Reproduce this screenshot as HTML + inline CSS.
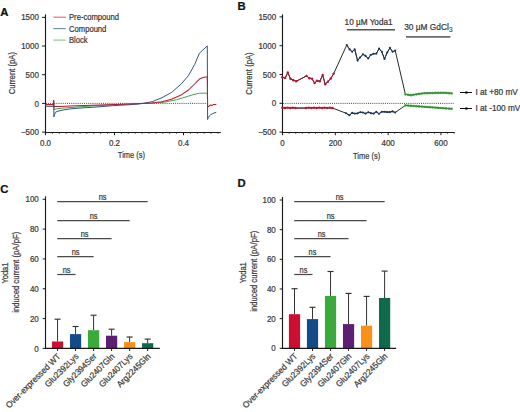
<!DOCTYPE html>
<html><head><meta charset="utf-8"><style>
html,body{margin:0;padding:0;background:#fff;width:520px;height:412px;overflow:hidden}
svg{display:block}
text{font-family:"Liberation Sans", sans-serif;stroke-width:0.22px}
</style></head><body>
<svg width="520" height="412" viewBox="0 0 520 412">
<rect width="520" height="412" fill="#fff"/>
<text x="0.30" y="15.90" font-size="11.3" text-anchor="start" fill="#111" stroke="#111" font-weight="bold" >A</text>
<text x="237.40" y="9.70" font-size="11.3" text-anchor="start" fill="#111" stroke="#111" font-weight="bold" >B</text>
<text x="0.30" y="193.40" font-size="11.3" text-anchor="start" fill="#111" stroke="#111" font-weight="bold" >C</text>
<text x="237.40" y="186.60" font-size="11.3" text-anchor="start" fill="#111" stroke="#111" font-weight="bold" >D</text>
<line x1="45.50" y1="14.40" x2="45.50" y2="135.20" stroke="#1a1a1a" stroke-width="1.15" />
<line x1="45.00" y1="132.50" x2="220.80" y2="132.50" stroke="#1a1a1a" stroke-width="1.15" />
<line x1="42.00" y1="17.38" x2="45.50" y2="17.38" stroke="#1a1a1a" stroke-width="1.0" />
<text x="0" y="0" transform="translate(38.90,20.48) scale(0.92,1)" font-size="8.7" text-anchor="end" fill="#383838" stroke="#383838" font-weight="normal" >1500</text>
<line x1="42.00" y1="46.05" x2="45.50" y2="46.05" stroke="#1a1a1a" stroke-width="1.0" />
<text x="0" y="0" transform="translate(38.90,49.15) scale(0.92,1)" font-size="8.7" text-anchor="end" fill="#383838" stroke="#383838" font-weight="normal" >1000</text>
<line x1="42.00" y1="74.73" x2="45.50" y2="74.73" stroke="#1a1a1a" stroke-width="1.0" />
<text x="0" y="0" transform="translate(38.90,77.83) scale(0.92,1)" font-size="8.7" text-anchor="end" fill="#383838" stroke="#383838" font-weight="normal" >500</text>
<line x1="42.00" y1="103.40" x2="45.50" y2="103.40" stroke="#1a1a1a" stroke-width="1.0" />
<text x="0" y="0" transform="translate(38.90,106.50) scale(0.92,1)" font-size="8.7" text-anchor="end" fill="#383838" stroke="#383838" font-weight="normal" >0</text>
<line x1="42.00" y1="132.08" x2="45.50" y2="132.08" stroke="#1a1a1a" stroke-width="1.0" />
<text x="0" y="0" transform="translate(38.90,135.18) scale(0.92,1)" font-size="8.7" text-anchor="end" fill="#383838" stroke="#383838" font-weight="normal" >&#8722;500</text>
<line x1="52.40" y1="132.50" x2="52.40" y2="133.60" stroke="#1a1a1a" stroke-width="1.0" />
<line x1="59.30" y1="132.50" x2="59.30" y2="133.60" stroke="#1a1a1a" stroke-width="1.0" />
<line x1="66.20" y1="132.50" x2="66.20" y2="133.60" stroke="#1a1a1a" stroke-width="1.0" />
<line x1="73.10" y1="132.50" x2="73.10" y2="133.60" stroke="#1a1a1a" stroke-width="1.0" />
<line x1="80.00" y1="132.50" x2="80.00" y2="133.60" stroke="#1a1a1a" stroke-width="1.0" />
<line x1="86.90" y1="132.50" x2="86.90" y2="133.60" stroke="#1a1a1a" stroke-width="1.0" />
<line x1="93.80" y1="132.50" x2="93.80" y2="133.60" stroke="#1a1a1a" stroke-width="1.0" />
<line x1="100.70" y1="132.50" x2="100.70" y2="133.60" stroke="#1a1a1a" stroke-width="1.0" />
<line x1="107.60" y1="132.50" x2="107.60" y2="133.60" stroke="#1a1a1a" stroke-width="1.0" />
<line x1="114.50" y1="132.50" x2="114.50" y2="135.20" stroke="#1a1a1a" stroke-width="1.0" />
<line x1="121.40" y1="132.50" x2="121.40" y2="133.60" stroke="#1a1a1a" stroke-width="1.0" />
<line x1="128.30" y1="132.50" x2="128.30" y2="133.60" stroke="#1a1a1a" stroke-width="1.0" />
<line x1="135.20" y1="132.50" x2="135.20" y2="133.60" stroke="#1a1a1a" stroke-width="1.0" />
<line x1="142.10" y1="132.50" x2="142.10" y2="133.60" stroke="#1a1a1a" stroke-width="1.0" />
<line x1="149.00" y1="132.50" x2="149.00" y2="133.60" stroke="#1a1a1a" stroke-width="1.0" />
<line x1="155.90" y1="132.50" x2="155.90" y2="133.60" stroke="#1a1a1a" stroke-width="1.0" />
<line x1="162.80" y1="132.50" x2="162.80" y2="133.60" stroke="#1a1a1a" stroke-width="1.0" />
<line x1="169.70" y1="132.50" x2="169.70" y2="133.60" stroke="#1a1a1a" stroke-width="1.0" />
<line x1="176.60" y1="132.50" x2="176.60" y2="133.60" stroke="#1a1a1a" stroke-width="1.0" />
<line x1="183.50" y1="132.50" x2="183.50" y2="135.20" stroke="#1a1a1a" stroke-width="1.0" />
<line x1="190.40" y1="132.50" x2="190.40" y2="133.60" stroke="#1a1a1a" stroke-width="1.0" />
<line x1="197.30" y1="132.50" x2="197.30" y2="133.60" stroke="#1a1a1a" stroke-width="1.0" />
<line x1="204.20" y1="132.50" x2="204.20" y2="133.60" stroke="#1a1a1a" stroke-width="1.0" />
<line x1="211.10" y1="132.50" x2="211.10" y2="133.60" stroke="#1a1a1a" stroke-width="1.0" />
<line x1="218.00" y1="132.50" x2="218.00" y2="133.60" stroke="#1a1a1a" stroke-width="1.0" />
<text x="0" y="0" transform="translate(45.50,146.30) scale(0.92,1)" font-size="8.7" text-anchor="middle" fill="#383838" stroke="#383838" font-weight="normal" >0.0</text>
<text x="0" y="0" transform="translate(114.50,146.30) scale(0.92,1)" font-size="8.7" text-anchor="middle" fill="#383838" stroke="#383838" font-weight="normal" >0.2</text>
<text x="0" y="0" transform="translate(183.50,146.30) scale(0.92,1)" font-size="8.7" text-anchor="middle" fill="#383838" stroke="#383838" font-weight="normal" >0.4</text>
<text x="0" y="0" transform="translate(131.40,158.40) scale(0.78,1)" font-size="9.6" text-anchor="middle" fill="#383838" stroke="#383838" font-weight="normal" >Time (s)</text>
<text transform="translate(14.9,73.2) rotate(-90) scale(0.82,1)" font-size="9.4" text-anchor="middle" fill="#383838" stroke="#383838">Current (pA)</text>
<line x1="45.80" y1="103.40" x2="207.20" y2="103.40" stroke="#333" stroke-width="0.9" stroke-dasharray="1.0,1.12"/>
<line x1="53.30" y1="17.20" x2="65.80" y2="17.20" stroke="#cc0f2e" stroke-width="0.85" stroke-opacity="0.85"/>
<text x="0" y="0" transform="translate(69.00,20.20) scale(0.89,1)" font-size="8.6" text-anchor="start" fill="#383838" stroke="#383838" font-weight="normal" >Pre-compound</text>
<line x1="53.30" y1="28.65" x2="65.80" y2="28.65" stroke="#134a88" stroke-width="0.85" stroke-opacity="0.85"/>
<text x="0" y="0" transform="translate(69.00,31.65) scale(0.89,1)" font-size="8.6" text-anchor="start" fill="#383838" stroke="#383838" font-weight="normal" >Compound</text>
<line x1="53.30" y1="40.10" x2="65.80" y2="40.10" stroke="#3aaa3a" stroke-width="0.85" stroke-opacity="0.85"/>
<text x="0" y="0" transform="translate(69.00,43.10) scale(0.89,1)" font-size="8.6" text-anchor="start" fill="#383838" stroke="#383838" font-weight="normal" >Block</text>
<polyline points="53.80,104.00 54.20,109.50 57.00,108.80 62.70,108.10 72.00,107.40 81.70,106.60 95.00,105.80 110.00,105.00 125.00,104.20 140.00,103.60 152.00,103.20 164.30,102.20 176.40,99.80 188.50,96.10 194.00,94.40 199.40,93.20 207.30,93.20 207.60,104.50" fill="none" stroke="#45a845" stroke-width="1.0" stroke-linejoin="round" stroke-linecap="round" />
<polyline points="45.60,106.30 53.60,106.40 53.70,100.40 53.90,116.90 55.40,112.20 58.00,111.20 62.00,110.20 71.00,108.80 82.00,107.90 92.30,107.30 103.00,106.50 113.50,105.60 124.00,105.00 134.60,104.40 143.00,103.40 152.10,101.70 161.80,97.80 171.50,92.50 181.20,84.00 188.50,75.50 194.60,64.60 199.40,53.20 207.30,45.90 207.60,119.50 208.30,117.60 209.30,116.00 210.80,114.60 212.80,113.50 215.90,112.40" fill="none" stroke="#2d5689" stroke-width="1.0" stroke-linejoin="round" stroke-linecap="round" />
<polyline points="45.60,104.60 53.50,104.60 53.60,100.40 53.80,106.60 60.00,106.40 70.00,106.00 85.00,105.50 100.00,105.00 115.00,104.50 130.00,104.00 141.00,103.40 152.00,102.90 161.80,101.70 171.50,99.30 181.20,94.90 188.50,90.00 194.60,84.00 199.40,79.10 203.00,77.60 207.30,76.70 207.60,106.80 209.00,106.20 210.50,105.00 212.00,105.60 213.50,104.40 215.90,104.40" fill="none" stroke="#bc1a30" stroke-width="1.05" stroke-linejoin="round" stroke-linecap="round" />
<line x1="282.50" y1="14.40" x2="282.50" y2="135.20" stroke="#1a1a1a" stroke-width="1.15" />
<line x1="282.00" y1="132.50" x2="454.60" y2="132.50" stroke="#1a1a1a" stroke-width="1.15" />
<line x1="279.50" y1="16.90" x2="282.50" y2="16.90" stroke="#1a1a1a" stroke-width="1.0" />
<text x="0" y="0" transform="translate(276.20,20.00) scale(0.92,1)" font-size="8.7" text-anchor="end" fill="#383838" stroke="#383838" font-weight="normal" >1500</text>
<line x1="279.50" y1="45.70" x2="282.50" y2="45.70" stroke="#1a1a1a" stroke-width="1.0" />
<text x="0" y="0" transform="translate(276.20,48.80) scale(0.92,1)" font-size="8.7" text-anchor="end" fill="#383838" stroke="#383838" font-weight="normal" >1000</text>
<line x1="279.50" y1="74.50" x2="282.50" y2="74.50" stroke="#1a1a1a" stroke-width="1.0" />
<text x="0" y="0" transform="translate(276.20,77.60) scale(0.92,1)" font-size="8.7" text-anchor="end" fill="#383838" stroke="#383838" font-weight="normal" >500</text>
<line x1="279.50" y1="103.30" x2="282.50" y2="103.30" stroke="#1a1a1a" stroke-width="1.0" />
<text x="0" y="0" transform="translate(276.20,106.40) scale(0.92,1)" font-size="8.7" text-anchor="end" fill="#383838" stroke="#383838" font-weight="normal" >0</text>
<line x1="279.50" y1="132.10" x2="282.50" y2="132.10" stroke="#1a1a1a" stroke-width="1.0" />
<text x="0" y="0" transform="translate(276.20,135.20) scale(0.92,1)" font-size="8.7" text-anchor="end" fill="#383838" stroke="#383838" font-weight="normal" >&#8722;500</text>
<line x1="289.10" y1="132.50" x2="289.10" y2="133.60" stroke="#1a1a1a" stroke-width="1.0" />
<line x1="295.70" y1="132.50" x2="295.70" y2="133.60" stroke="#1a1a1a" stroke-width="1.0" />
<line x1="302.31" y1="132.50" x2="302.31" y2="133.60" stroke="#1a1a1a" stroke-width="1.0" />
<line x1="308.91" y1="132.50" x2="308.91" y2="133.60" stroke="#1a1a1a" stroke-width="1.0" />
<line x1="315.51" y1="132.50" x2="315.51" y2="133.60" stroke="#1a1a1a" stroke-width="1.0" />
<line x1="322.12" y1="132.50" x2="322.12" y2="133.60" stroke="#1a1a1a" stroke-width="1.0" />
<line x1="328.72" y1="132.50" x2="328.72" y2="133.60" stroke="#1a1a1a" stroke-width="1.0" />
<line x1="335.32" y1="132.50" x2="335.32" y2="135.20" stroke="#1a1a1a" stroke-width="1.0" />
<line x1="341.92" y1="132.50" x2="341.92" y2="133.60" stroke="#1a1a1a" stroke-width="1.0" />
<line x1="348.52" y1="132.50" x2="348.52" y2="133.60" stroke="#1a1a1a" stroke-width="1.0" />
<line x1="355.13" y1="132.50" x2="355.13" y2="133.60" stroke="#1a1a1a" stroke-width="1.0" />
<line x1="361.73" y1="132.50" x2="361.73" y2="133.60" stroke="#1a1a1a" stroke-width="1.0" />
<line x1="368.33" y1="132.50" x2="368.33" y2="133.60" stroke="#1a1a1a" stroke-width="1.0" />
<line x1="374.94" y1="132.50" x2="374.94" y2="133.60" stroke="#1a1a1a" stroke-width="1.0" />
<line x1="381.54" y1="132.50" x2="381.54" y2="133.60" stroke="#1a1a1a" stroke-width="1.0" />
<line x1="388.14" y1="132.50" x2="388.14" y2="135.20" stroke="#1a1a1a" stroke-width="1.0" />
<line x1="394.74" y1="132.50" x2="394.74" y2="133.60" stroke="#1a1a1a" stroke-width="1.0" />
<line x1="401.35" y1="132.50" x2="401.35" y2="133.60" stroke="#1a1a1a" stroke-width="1.0" />
<line x1="407.95" y1="132.50" x2="407.95" y2="133.60" stroke="#1a1a1a" stroke-width="1.0" />
<line x1="414.55" y1="132.50" x2="414.55" y2="133.60" stroke="#1a1a1a" stroke-width="1.0" />
<line x1="421.15" y1="132.50" x2="421.15" y2="133.60" stroke="#1a1a1a" stroke-width="1.0" />
<line x1="427.75" y1="132.50" x2="427.75" y2="133.60" stroke="#1a1a1a" stroke-width="1.0" />
<line x1="434.36" y1="132.50" x2="434.36" y2="133.60" stroke="#1a1a1a" stroke-width="1.0" />
<line x1="440.96" y1="132.50" x2="440.96" y2="135.20" stroke="#1a1a1a" stroke-width="1.0" />
<line x1="447.56" y1="132.50" x2="447.56" y2="133.60" stroke="#1a1a1a" stroke-width="1.0" />
<line x1="454.16" y1="132.50" x2="454.16" y2="133.60" stroke="#1a1a1a" stroke-width="1.0" />
<text x="0" y="0" transform="translate(282.50,146.00) scale(0.92,1)" font-size="8.7" text-anchor="middle" fill="#383838" stroke="#383838" font-weight="normal" >0</text>
<text x="0" y="0" transform="translate(335.32,146.00) scale(0.92,1)" font-size="8.7" text-anchor="middle" fill="#383838" stroke="#383838" font-weight="normal" >200</text>
<text x="0" y="0" transform="translate(388.14,146.00) scale(0.92,1)" font-size="8.7" text-anchor="middle" fill="#383838" stroke="#383838" font-weight="normal" >400</text>
<text x="0" y="0" transform="translate(440.96,146.00) scale(0.92,1)" font-size="8.7" text-anchor="middle" fill="#383838" stroke="#383838" font-weight="normal" >600</text>
<text x="0" y="0" transform="translate(366.60,158.80) scale(0.78,1)" font-size="9.6" text-anchor="middle" fill="#383838" stroke="#383838" font-weight="normal" >Time (s)</text>
<text transform="translate(251.9,73.5) rotate(-90) scale(0.82,1)" font-size="9.4" text-anchor="middle" fill="#383838" stroke="#383838">Current (pA)</text>
<line x1="283.20" y1="103.40" x2="453.70" y2="103.40" stroke="#333" stroke-width="0.9" stroke-dasharray="1.0,1.12"/>
<text x="344.60" y="24.60" font-size="8.2" text-anchor="start" fill="#383838" stroke="#383838" font-weight="normal" >10 &#181;M Yoda1</text>
<line x1="346.90" y1="29.80" x2="395.00" y2="29.80" stroke="#555" stroke-width="1.6" />
<text x="404.2" y="29.9" font-size="8.35" fill="#383838" stroke="#383838">30 &#181;M GdCl<tspan font-size="6.5" dy="1.8" style="stroke-width:0.1px">3</tspan></text>
<line x1="406.00" y1="36.90" x2="450.40" y2="36.90" stroke="#6a6a6a" stroke-width="1.8" />
<line x1="460.00" y1="92.50" x2="471.90" y2="92.50" stroke="#111" stroke-width="1.0" />
<circle cx="466.3" cy="92.5" r="1.35" fill="#111"/>
<text x="475.40" y="95.20" font-size="8.25" text-anchor="start" fill="#383838" stroke="#383838" font-weight="normal" >I at +80 mV</text>
<line x1="460.00" y1="108.50" x2="471.90" y2="108.50" stroke="#111" stroke-width="1.0" />
<circle cx="466.3" cy="108.5" r="1.35" fill="#111"/>
<text x="475.40" y="111.20" font-size="8.25" text-anchor="start" fill="#383838" stroke="#383838" font-weight="normal" >I at -100 mV</text>
<polyline points="282.30,77.30 285.20,77.90 287.80,72.50 290.40,78.70 293.30,80.20 296.20,81.30 306.50,75.90 309.40,78.20 312.10,78.70 314.60,83.10 316.90,80.80 319.80,81.30 322.70,75.00 325.20,84.20 327.90,81.70 330.80,78.50 333.70,73.60 346.80,45.00 349.60,49.40 352.20,51.80 354.70,49.20 357.60,60.60 360.00,57.60 362.90,54.30 365.60,55.90 368.20,58.50 370.70,55.00 373.50,53.80 376.40,53.60 379.10,48.50 381.80,51.80 384.50,59.00 387.20,52.50 389.90,47.80 392.60,51.80 395.20,50.50 405.40,94.30 408.12,94.79 410.84,95.14 413.56,94.74 416.28,94.34 419.00,93.94 421.72,93.54 424.44,93.19 427.16,93.14 429.88,93.08 432.60,93.03 435.32,92.97 438.04,92.92 440.76,92.86 443.48,92.81 446.20,92.97 448.92,93.17 451.64,93.37" fill="none" stroke="#1c1c1c" stroke-width="0.95" stroke-linejoin="round" stroke-linecap="round" />
<polyline points="282.30,107.65 284.94,108.05 287.58,107.65 290.22,108.05 292.86,107.65 295.50,108.05 306.07,108.05 308.71,107.65 311.35,108.05 313.99,107.65 316.63,108.05 319.27,107.65 321.92,108.05 324.56,107.65 327.20,108.05 329.84,107.65 332.48,108.05 346.00,113.20 349.40,115.20 352.10,112.90 354.80,113.60 357.50,113.40 360.20,112.20 362.90,112.50 365.60,113.60 368.30,112.20 371.00,113.20 373.60,113.60 376.30,111.80 379.00,113.80 381.70,111.80 384.40,111.80 387.10,112.10 389.80,112.10 392.50,111.40 395.20,112.50 405.40,105.40 408.12,105.60 410.84,105.80 413.56,106.00 416.28,106.20 419.00,106.41 421.72,106.61 424.44,106.81 427.16,107.01 429.88,107.21 432.60,107.41 435.32,107.61 438.04,107.81 440.76,108.01 443.48,108.21 446.20,108.42 448.92,108.62 451.64,108.82" fill="none" stroke="#1c1c1c" stroke-width="0.95" stroke-linejoin="round" stroke-linecap="round" />
<polyline points="282.30,77.30 285.20,77.90 287.80,72.50 290.40,78.70 293.30,80.20 296.20,81.30 306.50,75.90 309.40,78.20 312.10,78.70 314.60,83.10 316.90,80.80 319.80,81.30 322.70,75.00 325.20,84.20 327.90,81.70 330.80,78.50 333.70,73.60" fill="none" stroke="#8a1828" stroke-width="0.95" stroke-linejoin="round" stroke-linecap="round" />
<polyline points="282.30,107.65 284.94,108.05 287.58,107.65 290.22,108.05 292.86,107.65 295.50,108.05 306.07,108.05 308.71,107.65 311.35,108.05 313.99,107.65 316.63,108.05 319.27,107.65 321.92,108.05 324.56,107.65 327.20,108.05 329.84,107.65 332.48,108.05" fill="none" stroke="#8a1828" stroke-width="0.95" stroke-linejoin="round" stroke-linecap="round" />
<polyline points="346.80,45.00 349.60,49.40 352.20,51.80 354.70,49.20 357.60,60.60 360.00,57.60 362.90,54.30 365.60,55.90 368.20,58.50 370.70,55.00 373.50,53.80 376.40,53.60 379.10,48.50 381.80,51.80 384.50,59.00 387.20,52.50 389.90,47.80 392.60,51.80 395.20,50.50" fill="none" stroke="#1b3358" stroke-width="0.9" stroke-linejoin="round" stroke-linecap="round" />
<polyline points="346.00,113.20 349.40,115.20 352.10,112.90 354.80,113.60 357.50,113.40 360.20,112.20 362.90,112.50 365.60,113.60 368.30,112.20 371.00,113.20 373.60,113.60 376.30,111.80 379.00,113.80 381.70,111.80 384.40,111.80 387.10,112.10 389.80,112.10 392.50,111.40 395.20,112.50" fill="none" stroke="#1b3358" stroke-width="0.9" stroke-linejoin="round" stroke-linecap="round" />
<circle cx="282.30" cy="77.30" r="1.2" fill="#c0122e"/>
<circle cx="285.20" cy="77.90" r="1.2" fill="#c0122e"/>
<circle cx="287.80" cy="72.50" r="1.2" fill="#c0122e"/>
<circle cx="290.40" cy="78.70" r="1.2" fill="#c0122e"/>
<circle cx="293.30" cy="80.20" r="1.2" fill="#c0122e"/>
<circle cx="296.20" cy="81.30" r="1.2" fill="#c0122e"/>
<circle cx="306.50" cy="75.90" r="1.2" fill="#c0122e"/>
<circle cx="309.40" cy="78.20" r="1.2" fill="#c0122e"/>
<circle cx="312.10" cy="78.70" r="1.2" fill="#c0122e"/>
<circle cx="314.60" cy="83.10" r="1.2" fill="#c0122e"/>
<circle cx="316.90" cy="80.80" r="1.2" fill="#c0122e"/>
<circle cx="319.80" cy="81.30" r="1.2" fill="#c0122e"/>
<circle cx="322.70" cy="75.00" r="1.2" fill="#c0122e"/>
<circle cx="325.20" cy="84.20" r="1.2" fill="#c0122e"/>
<circle cx="327.90" cy="81.70" r="1.2" fill="#c0122e"/>
<circle cx="330.80" cy="78.50" r="1.2" fill="#c0122e"/>
<circle cx="333.70" cy="73.60" r="1.2" fill="#c0122e"/>
<circle cx="282.30" cy="107.65" r="1.2" fill="#c0122e"/>
<circle cx="284.94" cy="108.05" r="1.2" fill="#c0122e"/>
<circle cx="287.58" cy="107.65" r="1.2" fill="#c0122e"/>
<circle cx="290.22" cy="108.05" r="1.2" fill="#c0122e"/>
<circle cx="292.86" cy="107.65" r="1.2" fill="#c0122e"/>
<circle cx="295.50" cy="108.05" r="1.2" fill="#c0122e"/>
<circle cx="306.07" cy="108.05" r="1.2" fill="#c0122e"/>
<circle cx="308.71" cy="107.65" r="1.2" fill="#c0122e"/>
<circle cx="311.35" cy="108.05" r="1.2" fill="#c0122e"/>
<circle cx="313.99" cy="107.65" r="1.2" fill="#c0122e"/>
<circle cx="316.63" cy="108.05" r="1.2" fill="#c0122e"/>
<circle cx="319.27" cy="107.65" r="1.2" fill="#c0122e"/>
<circle cx="321.92" cy="108.05" r="1.2" fill="#c0122e"/>
<circle cx="324.56" cy="107.65" r="1.2" fill="#c0122e"/>
<circle cx="327.20" cy="108.05" r="1.2" fill="#c0122e"/>
<circle cx="329.84" cy="107.65" r="1.2" fill="#c0122e"/>
<circle cx="332.48" cy="108.05" r="1.2" fill="#c0122e"/>
<circle cx="346.80" cy="45.00" r="1.05" fill="#1b3358"/>
<circle cx="349.60" cy="49.40" r="1.05" fill="#1b3358"/>
<circle cx="352.20" cy="51.80" r="1.05" fill="#1b3358"/>
<circle cx="354.70" cy="49.20" r="1.05" fill="#1b3358"/>
<circle cx="357.60" cy="60.60" r="1.05" fill="#1b3358"/>
<circle cx="360.00" cy="57.60" r="1.05" fill="#1b3358"/>
<circle cx="362.90" cy="54.30" r="1.05" fill="#1b3358"/>
<circle cx="365.60" cy="55.90" r="1.05" fill="#1b3358"/>
<circle cx="368.20" cy="58.50" r="1.05" fill="#1b3358"/>
<circle cx="370.70" cy="55.00" r="1.05" fill="#1b3358"/>
<circle cx="373.50" cy="53.80" r="1.05" fill="#1b3358"/>
<circle cx="376.40" cy="53.60" r="1.05" fill="#1b3358"/>
<circle cx="379.10" cy="48.50" r="1.05" fill="#1b3358"/>
<circle cx="381.80" cy="51.80" r="1.05" fill="#1b3358"/>
<circle cx="384.50" cy="59.00" r="1.05" fill="#1b3358"/>
<circle cx="387.20" cy="52.50" r="1.05" fill="#1b3358"/>
<circle cx="389.90" cy="47.80" r="1.05" fill="#1b3358"/>
<circle cx="392.60" cy="51.80" r="1.05" fill="#1b3358"/>
<circle cx="395.20" cy="50.50" r="1.05" fill="#1b3358"/>
<circle cx="346.00" cy="113.20" r="1.05" fill="#1b3358"/>
<circle cx="349.40" cy="115.20" r="1.05" fill="#1b3358"/>
<circle cx="352.10" cy="112.90" r="1.05" fill="#1b3358"/>
<circle cx="354.80" cy="113.60" r="1.05" fill="#1b3358"/>
<circle cx="357.50" cy="113.40" r="1.05" fill="#1b3358"/>
<circle cx="360.20" cy="112.20" r="1.05" fill="#1b3358"/>
<circle cx="362.90" cy="112.50" r="1.05" fill="#1b3358"/>
<circle cx="365.60" cy="113.60" r="1.05" fill="#1b3358"/>
<circle cx="368.30" cy="112.20" r="1.05" fill="#1b3358"/>
<circle cx="371.00" cy="113.20" r="1.05" fill="#1b3358"/>
<circle cx="373.60" cy="113.60" r="1.05" fill="#1b3358"/>
<circle cx="376.30" cy="111.80" r="1.05" fill="#1b3358"/>
<circle cx="379.00" cy="113.80" r="1.05" fill="#1b3358"/>
<circle cx="381.70" cy="111.80" r="1.05" fill="#1b3358"/>
<circle cx="384.40" cy="111.80" r="1.05" fill="#1b3358"/>
<circle cx="387.10" cy="112.10" r="1.05" fill="#1b3358"/>
<circle cx="389.80" cy="112.10" r="1.05" fill="#1b3358"/>
<circle cx="392.50" cy="111.40" r="1.05" fill="#1b3358"/>
<circle cx="395.20" cy="112.50" r="1.05" fill="#1b3358"/>
<circle cx="405.40" cy="94.30" r="1.35" fill="#50b450"/>
<circle cx="408.12" cy="94.79" r="1.35" fill="#50b450"/>
<circle cx="410.84" cy="95.14" r="1.35" fill="#50b450"/>
<circle cx="413.56" cy="94.74" r="1.35" fill="#50b450"/>
<circle cx="416.28" cy="94.34" r="1.35" fill="#50b450"/>
<circle cx="419.00" cy="93.94" r="1.35" fill="#50b450"/>
<circle cx="421.72" cy="93.54" r="1.35" fill="#50b450"/>
<circle cx="424.44" cy="93.19" r="1.35" fill="#50b450"/>
<circle cx="427.16" cy="93.14" r="1.35" fill="#50b450"/>
<circle cx="429.88" cy="93.08" r="1.35" fill="#50b450"/>
<circle cx="432.60" cy="93.03" r="1.35" fill="#50b450"/>
<circle cx="435.32" cy="92.97" r="1.35" fill="#50b450"/>
<circle cx="438.04" cy="92.92" r="1.35" fill="#50b450"/>
<circle cx="440.76" cy="92.86" r="1.35" fill="#50b450"/>
<circle cx="443.48" cy="92.81" r="1.35" fill="#50b450"/>
<circle cx="446.20" cy="92.97" r="1.35" fill="#50b450"/>
<circle cx="448.92" cy="93.17" r="1.35" fill="#50b450"/>
<circle cx="451.64" cy="93.37" r="1.35" fill="#50b450"/>
<circle cx="405.40" cy="105.40" r="1.35" fill="#50b450"/>
<circle cx="408.12" cy="105.60" r="1.35" fill="#50b450"/>
<circle cx="410.84" cy="105.80" r="1.35" fill="#50b450"/>
<circle cx="413.56" cy="106.00" r="1.35" fill="#50b450"/>
<circle cx="416.28" cy="106.20" r="1.35" fill="#50b450"/>
<circle cx="419.00" cy="106.41" r="1.35" fill="#50b450"/>
<circle cx="421.72" cy="106.61" r="1.35" fill="#50b450"/>
<circle cx="424.44" cy="106.81" r="1.35" fill="#50b450"/>
<circle cx="427.16" cy="107.01" r="1.35" fill="#50b450"/>
<circle cx="429.88" cy="107.21" r="1.35" fill="#50b450"/>
<circle cx="432.60" cy="107.41" r="1.35" fill="#50b450"/>
<circle cx="435.32" cy="107.61" r="1.35" fill="#50b450"/>
<circle cx="438.04" cy="107.81" r="1.35" fill="#50b450"/>
<circle cx="440.76" cy="108.01" r="1.35" fill="#50b450"/>
<circle cx="443.48" cy="108.21" r="1.35" fill="#50b450"/>
<circle cx="446.20" cy="108.42" r="1.35" fill="#50b450"/>
<circle cx="448.92" cy="108.62" r="1.35" fill="#50b450"/>
<circle cx="451.64" cy="108.82" r="1.35" fill="#50b450"/>
<polyline points="405.40,94.30 408.12,94.79 410.84,95.14 413.56,94.74 416.28,94.34 419.00,93.94 421.72,93.54 424.44,93.19 427.16,93.14 429.88,93.08 432.60,93.03 435.32,92.97 438.04,92.92 440.76,92.86 443.48,92.81 446.20,92.97 448.92,93.17 451.64,93.37" fill="none" stroke="#2f7a2f" stroke-width="0.9" stroke-linejoin="round" stroke-linecap="round" />
<polyline points="405.40,105.40 408.12,105.60 410.84,105.80 413.56,106.00 416.28,106.20 419.00,106.41 421.72,106.61 424.44,106.81 427.16,107.01 429.88,107.21 432.60,107.41 435.32,107.61 438.04,107.81 440.76,108.01 443.48,108.21 446.20,108.42 448.92,108.62 451.64,108.82" fill="none" stroke="#2f7a2f" stroke-width="0.9" stroke-linejoin="round" stroke-linecap="round" />
<line x1="45.50" y1="196.30" x2="45.50" y2="348.90" stroke="#1a1a1a" stroke-width="1.15" />
<line x1="42.70" y1="348.40" x2="45.50" y2="348.40" stroke="#1a1a1a" stroke-width="1.0" />
<text x="0" y="0" transform="translate(38.80,351.50) scale(0.92,1)" font-size="8.7" text-anchor="end" fill="#383838" stroke="#383838" font-weight="normal" >0</text>
<line x1="42.70" y1="318.58" x2="45.50" y2="318.58" stroke="#1a1a1a" stroke-width="1.0" />
<text x="0" y="0" transform="translate(38.80,321.68) scale(0.92,1)" font-size="8.7" text-anchor="end" fill="#383838" stroke="#383838" font-weight="normal" >20</text>
<line x1="42.70" y1="288.76" x2="45.50" y2="288.76" stroke="#1a1a1a" stroke-width="1.0" />
<text x="0" y="0" transform="translate(38.80,291.86) scale(0.92,1)" font-size="8.7" text-anchor="end" fill="#383838" stroke="#383838" font-weight="normal" >40</text>
<line x1="42.70" y1="258.94" x2="45.50" y2="258.94" stroke="#1a1a1a" stroke-width="1.0" />
<text x="0" y="0" transform="translate(38.80,262.04) scale(0.92,1)" font-size="8.7" text-anchor="end" fill="#383838" stroke="#383838" font-weight="normal" >60</text>
<line x1="42.70" y1="229.12" x2="45.50" y2="229.12" stroke="#1a1a1a" stroke-width="1.0" />
<text x="0" y="0" transform="translate(38.80,232.22) scale(0.92,1)" font-size="8.7" text-anchor="end" fill="#383838" stroke="#383838" font-weight="normal" >80</text>
<line x1="42.70" y1="199.30" x2="45.50" y2="199.30" stroke="#1a1a1a" stroke-width="1.0" />
<text x="0" y="0" transform="translate(38.80,202.40) scale(0.92,1)" font-size="8.7" text-anchor="end" fill="#383838" stroke="#383838" font-weight="normal" >100</text>
<line x1="57.55" y1="341.50" x2="57.55" y2="319.20" stroke="#333" stroke-width="1.0" />
<line x1="54.55" y1="319.20" x2="60.55" y2="319.20" stroke="#333" stroke-width="1.15" />
<rect x="51.95" y="341.50" width="11.2" height="6.90" fill="#cc0f2e"/>
<line x1="57.55" y1="348.40" x2="57.55" y2="351.00" stroke="#1a1a1a" stroke-width="1.0" />
<text transform="translate(61.05,356.90) rotate(-45) scale(0.95,1)" font-size="8.65" text-anchor="end" fill="#383838" stroke="#383838">Over-expressed WT</text>
<line x1="75.57" y1="334.10" x2="75.57" y2="326.50" stroke="#333" stroke-width="1.0" />
<line x1="72.57" y1="326.50" x2="78.57" y2="326.50" stroke="#333" stroke-width="1.15" />
<rect x="69.97" y="334.10" width="11.2" height="14.30" fill="#134a88"/>
<line x1="75.57" y1="348.40" x2="75.57" y2="351.00" stroke="#1a1a1a" stroke-width="1.0" />
<text transform="translate(79.07,356.90) rotate(-45) scale(0.95,1)" font-size="8.65" text-anchor="end" fill="#383838" stroke="#383838">Glu2392Lys</text>
<line x1="93.59" y1="330.20" x2="93.59" y2="315.20" stroke="#333" stroke-width="1.0" />
<line x1="90.59" y1="315.20" x2="96.59" y2="315.20" stroke="#333" stroke-width="1.15" />
<rect x="87.99" y="330.20" width="11.2" height="18.20" fill="#3aaa3a"/>
<line x1="93.59" y1="348.40" x2="93.59" y2="351.00" stroke="#1a1a1a" stroke-width="1.0" />
<text transform="translate(97.09,356.90) rotate(-45) scale(0.95,1)" font-size="8.65" text-anchor="end" fill="#383838" stroke="#383838">Gly2394Ser</text>
<line x1="111.61" y1="335.70" x2="111.61" y2="329.20" stroke="#333" stroke-width="1.0" />
<line x1="108.61" y1="329.20" x2="114.61" y2="329.20" stroke="#333" stroke-width="1.15" />
<rect x="106.01" y="335.70" width="11.2" height="12.70" fill="#5c1f72"/>
<line x1="111.61" y1="348.40" x2="111.61" y2="351.00" stroke="#1a1a1a" stroke-width="1.0" />
<text transform="translate(115.11,356.90) rotate(-45) scale(0.95,1)" font-size="8.65" text-anchor="end" fill="#383838" stroke="#383838">Glu2407Gln</text>
<line x1="129.63" y1="342.10" x2="129.63" y2="337.00" stroke="#333" stroke-width="1.0" />
<line x1="126.63" y1="337.00" x2="132.63" y2="337.00" stroke="#333" stroke-width="1.15" />
<rect x="124.03" y="342.10" width="11.2" height="6.30" fill="#f7911c"/>
<line x1="129.63" y1="348.40" x2="129.63" y2="351.00" stroke="#1a1a1a" stroke-width="1.0" />
<text transform="translate(133.13,356.90) rotate(-45) scale(0.95,1)" font-size="8.65" text-anchor="end" fill="#383838" stroke="#383838">Glu2407Lys</text>
<line x1="147.65" y1="343.20" x2="147.65" y2="339.10" stroke="#333" stroke-width="1.0" />
<line x1="144.65" y1="339.10" x2="150.65" y2="339.10" stroke="#333" stroke-width="1.15" />
<rect x="142.05" y="343.20" width="11.2" height="5.20" fill="#0f6a4d"/>
<line x1="147.65" y1="348.40" x2="147.65" y2="351.00" stroke="#1a1a1a" stroke-width="1.0" />
<text transform="translate(151.15,356.90) rotate(-45) scale(0.95,1)" font-size="8.65" text-anchor="end" fill="#383838" stroke="#383838">Arg2245Gln</text>
<line x1="45.00" y1="348.40" x2="159.80" y2="348.40" stroke="#1a1a1a" stroke-width="1.2" />
<line x1="57.25" y1="201.50" x2="147.65" y2="201.50" stroke="#4a4a4a" stroke-width="1.25" />
<text x="0" y="0" transform="translate(102.60,199.60) scale(0.86,1)" font-size="8.6" text-anchor="middle" fill="#383838" stroke="#383838" font-weight="normal" >ns</text>
<line x1="57.25" y1="220.50" x2="129.63" y2="220.50" stroke="#4a4a4a" stroke-width="1.25" />
<text x="0" y="0" transform="translate(93.59,218.60) scale(0.86,1)" font-size="8.6" text-anchor="middle" fill="#383838" stroke="#383838" font-weight="normal" >ns</text>
<line x1="57.25" y1="238.50" x2="111.61" y2="238.50" stroke="#4a4a4a" stroke-width="1.25" />
<text x="0" y="0" transform="translate(84.58,236.60) scale(0.86,1)" font-size="8.6" text-anchor="middle" fill="#383838" stroke="#383838" font-weight="normal" >ns</text>
<line x1="57.25" y1="256.50" x2="93.59" y2="256.50" stroke="#4a4a4a" stroke-width="1.25" />
<text x="0" y="0" transform="translate(75.57,254.60) scale(0.86,1)" font-size="8.6" text-anchor="middle" fill="#383838" stroke="#383838" font-weight="normal" >ns</text>
<line x1="57.25" y1="274.50" x2="75.57" y2="274.50" stroke="#4a4a4a" stroke-width="1.25" />
<text x="0" y="0" transform="translate(66.56,272.60) scale(0.86,1)" font-size="8.6" text-anchor="middle" fill="#383838" stroke="#383838" font-weight="normal" >ns</text>
<text transform="translate(8.30,273.10) rotate(-90)" font-size="8.8" text-anchor="middle" fill="#383838" stroke="#383838" textLength="21" lengthAdjust="spacingAndGlyphs">Yoda1</text>
<text transform="translate(18.60,272.30) rotate(-90)" font-size="8.4" text-anchor="middle" fill="#383838" stroke="#383838" textLength="81" lengthAdjust="spacingAndGlyphs">induced current (pA/pF)</text>
<line x1="282.50" y1="197.00" x2="282.50" y2="348.80" stroke="#1a1a1a" stroke-width="1.15" />
<line x1="279.70" y1="348.30" x2="282.50" y2="348.30" stroke="#1a1a1a" stroke-width="1.0" />
<text x="0" y="0" transform="translate(275.80,351.40) scale(0.92,1)" font-size="8.7" text-anchor="end" fill="#383838" stroke="#383838" font-weight="normal" >0</text>
<line x1="279.70" y1="318.64" x2="282.50" y2="318.64" stroke="#1a1a1a" stroke-width="1.0" />
<text x="0" y="0" transform="translate(275.80,321.74) scale(0.92,1)" font-size="8.7" text-anchor="end" fill="#383838" stroke="#383838" font-weight="normal" >20</text>
<line x1="279.70" y1="288.98" x2="282.50" y2="288.98" stroke="#1a1a1a" stroke-width="1.0" />
<text x="0" y="0" transform="translate(275.80,292.08) scale(0.92,1)" font-size="8.7" text-anchor="end" fill="#383838" stroke="#383838" font-weight="normal" >40</text>
<line x1="279.70" y1="259.32" x2="282.50" y2="259.32" stroke="#1a1a1a" stroke-width="1.0" />
<text x="0" y="0" transform="translate(275.80,262.42) scale(0.92,1)" font-size="8.7" text-anchor="end" fill="#383838" stroke="#383838" font-weight="normal" >60</text>
<line x1="279.70" y1="229.66" x2="282.50" y2="229.66" stroke="#1a1a1a" stroke-width="1.0" />
<text x="0" y="0" transform="translate(275.80,232.76) scale(0.92,1)" font-size="8.7" text-anchor="end" fill="#383838" stroke="#383838" font-weight="normal" >80</text>
<line x1="279.70" y1="200.00" x2="282.50" y2="200.00" stroke="#1a1a1a" stroke-width="1.0" />
<text x="0" y="0" transform="translate(275.80,203.10) scale(0.92,1)" font-size="8.7" text-anchor="end" fill="#383838" stroke="#383838" font-weight="normal" >100</text>
<line x1="294.50" y1="314.20" x2="294.50" y2="288.70" stroke="#333" stroke-width="1.0" />
<line x1="291.50" y1="288.70" x2="297.50" y2="288.70" stroke="#333" stroke-width="1.15" />
<rect x="288.90" y="314.20" width="11.2" height="34.10" fill="#cc0f2e"/>
<line x1="294.50" y1="348.30" x2="294.50" y2="350.90" stroke="#1a1a1a" stroke-width="1.0" />
<text transform="translate(298.00,356.80) rotate(-45) scale(0.95,1)" font-size="8.65" text-anchor="end" fill="#383838" stroke="#383838">Over-expressed WT</text>
<line x1="312.52" y1="319.10" x2="312.52" y2="307.30" stroke="#333" stroke-width="1.0" />
<line x1="309.52" y1="307.30" x2="315.52" y2="307.30" stroke="#333" stroke-width="1.15" />
<rect x="306.92" y="319.10" width="11.2" height="29.20" fill="#134a88"/>
<line x1="312.52" y1="348.30" x2="312.52" y2="350.90" stroke="#1a1a1a" stroke-width="1.0" />
<text transform="translate(316.02,356.80) rotate(-45) scale(0.95,1)" font-size="8.65" text-anchor="end" fill="#383838" stroke="#383838">Glu2392Lys</text>
<line x1="330.54" y1="295.90" x2="330.54" y2="271.50" stroke="#333" stroke-width="1.0" />
<line x1="327.54" y1="271.50" x2="333.54" y2="271.50" stroke="#333" stroke-width="1.15" />
<rect x="324.94" y="295.90" width="11.2" height="52.40" fill="#3aaa3a"/>
<line x1="330.54" y1="348.30" x2="330.54" y2="350.90" stroke="#1a1a1a" stroke-width="1.0" />
<text transform="translate(334.04,356.80) rotate(-45) scale(0.95,1)" font-size="8.65" text-anchor="end" fill="#383838" stroke="#383838">Gly2394Ser</text>
<line x1="348.56" y1="324.10" x2="348.56" y2="293.40" stroke="#333" stroke-width="1.0" />
<line x1="345.56" y1="293.40" x2="351.56" y2="293.40" stroke="#333" stroke-width="1.15" />
<rect x="342.96" y="324.10" width="11.2" height="24.20" fill="#5c1f72"/>
<line x1="348.56" y1="348.30" x2="348.56" y2="350.90" stroke="#1a1a1a" stroke-width="1.0" />
<text transform="translate(352.06,356.80) rotate(-45) scale(0.95,1)" font-size="8.65" text-anchor="end" fill="#383838" stroke="#383838">Glu2407Gln</text>
<line x1="366.58" y1="325.70" x2="366.58" y2="296.40" stroke="#333" stroke-width="1.0" />
<line x1="363.58" y1="296.40" x2="369.58" y2="296.40" stroke="#333" stroke-width="1.15" />
<rect x="360.98" y="325.70" width="11.2" height="22.60" fill="#f7911c"/>
<line x1="366.58" y1="348.30" x2="366.58" y2="350.90" stroke="#1a1a1a" stroke-width="1.0" />
<text transform="translate(370.08,356.80) rotate(-45) scale(0.95,1)" font-size="8.65" text-anchor="end" fill="#383838" stroke="#383838">Glu2407Lys</text>
<line x1="384.60" y1="298.00" x2="384.60" y2="271.10" stroke="#333" stroke-width="1.0" />
<line x1="381.60" y1="271.10" x2="387.60" y2="271.10" stroke="#333" stroke-width="1.15" />
<rect x="379.00" y="298.00" width="11.2" height="50.30" fill="#0f6a4d"/>
<line x1="384.60" y1="348.30" x2="384.60" y2="350.90" stroke="#1a1a1a" stroke-width="1.0" />
<text transform="translate(388.10,356.80) rotate(-45) scale(0.95,1)" font-size="8.65" text-anchor="end" fill="#383838" stroke="#383838">Arg2245Gln</text>
<line x1="282.00" y1="348.30" x2="396.10" y2="348.30" stroke="#1a1a1a" stroke-width="1.2" />
<line x1="294.20" y1="201.50" x2="384.60" y2="201.50" stroke="#4a4a4a" stroke-width="1.25" />
<text x="0" y="0" transform="translate(339.55,199.60) scale(0.86,1)" font-size="8.6" text-anchor="middle" fill="#383838" stroke="#383838" font-weight="normal" >ns</text>
<line x1="294.20" y1="220.50" x2="366.58" y2="220.50" stroke="#4a4a4a" stroke-width="1.25" />
<text x="0" y="0" transform="translate(330.54,218.60) scale(0.86,1)" font-size="8.6" text-anchor="middle" fill="#383838" stroke="#383838" font-weight="normal" >ns</text>
<line x1="294.20" y1="238.50" x2="348.56" y2="238.50" stroke="#4a4a4a" stroke-width="1.25" />
<text x="0" y="0" transform="translate(321.53,236.60) scale(0.86,1)" font-size="8.6" text-anchor="middle" fill="#383838" stroke="#383838" font-weight="normal" >ns</text>
<line x1="294.20" y1="256.50" x2="330.54" y2="256.50" stroke="#4a4a4a" stroke-width="1.25" />
<text x="0" y="0" transform="translate(312.52,254.60) scale(0.86,1)" font-size="8.6" text-anchor="middle" fill="#383838" stroke="#383838" font-weight="normal" >ns</text>
<line x1="294.20" y1="274.50" x2="312.52" y2="274.50" stroke="#4a4a4a" stroke-width="1.25" />
<text x="0" y="0" transform="translate(303.51,272.60) scale(0.86,1)" font-size="8.6" text-anchor="middle" fill="#383838" stroke="#383838" font-weight="normal" >ns</text>
<text transform="translate(245.50,272.70) rotate(-90)" font-size="8.8" text-anchor="middle" fill="#383838" stroke="#383838" textLength="21" lengthAdjust="spacingAndGlyphs">Yoda1</text>
<text transform="translate(256.60,271.30) rotate(-90)" font-size="8.4" text-anchor="middle" fill="#383838" stroke="#383838" textLength="81" lengthAdjust="spacingAndGlyphs">induced current (pA/pF)</text>
</svg>
</body></html>
